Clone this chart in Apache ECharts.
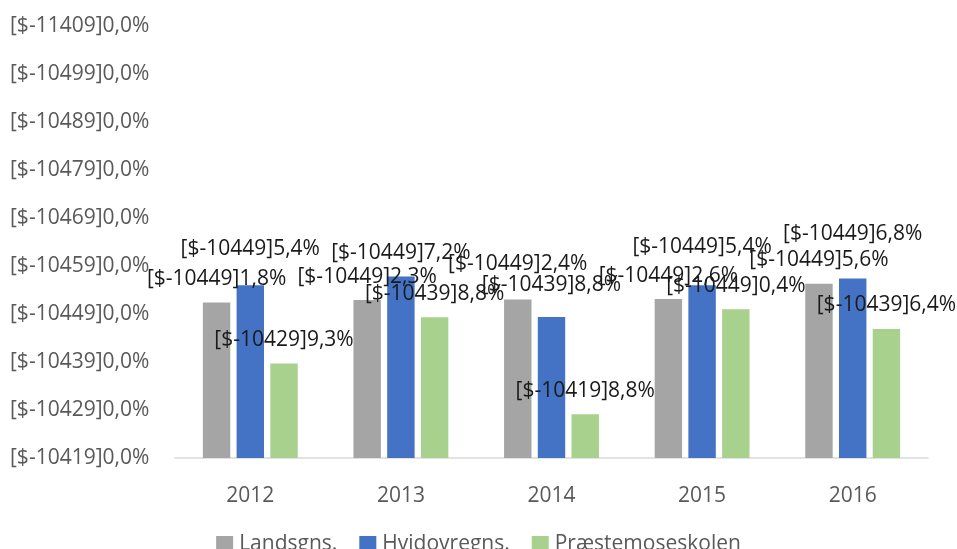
<!DOCTYPE html>
<html><head><meta charset="utf-8">
<script src="https://cdn.jsdelivr.net/npm/echarts@6/dist/echarts.min.js"></script>
<style>html,body{margin:0;padding:0;background:#fff}#c{width:957px;height:549px}</style>
</head><body><div id="c"></div>
<script>
const categories = ['2012','2013','2014','2015','2016'];
const seriesNames = ['Landsgns.','Hvidovregns.','Præstemoseskolen'];
const tickLabels = ['[$-10419]0,0%','[$-10429]0,0%','[$-10439]0,0%','[$-10449]0,0%','[$-10459]0,0%','[$-10469]0,0%','[$-10479]0,0%','[$-10489]0,0%','[$-10499]0,0%','[$-11409]0,0%'];
const landsgns = [3.24, 3.29, 3.30, 3.31, 3.63];
const hvidovregns = [3.60, 3.78, 2.94, 3.60, 3.74];
const praestemose = [1.97, 2.93, 0.91, 3.10, 2.69];
const labelsLands = ['[$-10449]1,8%','[$-10449]2,3%','[$-10449]2,4%','[$-10449]2,6%','[$-10449]5,6%'];
const labelsHvid = ['[$-10449]5,4%','[$-10449]7,2%','[$-10439]8,8%','[$-10449]5,4%','[$-10449]6,8%'];
const labelsPraest = ['[$-10429]9,3%','[$-10439]8,8%','[$-10419]8,8%','[$-10449]0,4%','[$-10439]6,4%'];
// extra upward shift Excel applied to avoid label overlap (px)
const labelLift = [[0,0,12,0,0],[13,0,8,15,21],[0,0,0,0,0]];

const values = [landsgns, hvidovregns, praestemose];
const labelTexts = [labelsLands, labelsHvid, labelsPraest];
const colors = ['#a5a5a5','#4472c4','#a9d18e'];
const FONT = 'Open Sans';
const FS = 21;

const chart = echarts.init(document.getElementById('c'), null, {renderer:'canvas'});
chart.setOption({
  animation:false,
  backgroundColor:'#ffffff',
  grid:{left:175, right:29, top:26, bottom:91},
  legend:{
    data:seriesNames, top:529, left:'center', icon:'rect', itemWidth:17, itemHeight:17, itemGap:22,
    textStyle:{fontFamily:FONT, fontSize:FS, color:'#595959', padding:[0,0,0,1]}
  },
  xAxis:{
    type:'category', data:categories,
    axisTick:{show:false},
    axisLine:{lineStyle:{color:'#d9d9d9', width:1.5}},
    axisLabel:{fontFamily:FONT, fontSize:FS, color:'#595959', margin:28}
  },
  yAxis:{
    type:'value', min:0, max:9, interval:1,
    splitLine:{show:false}, axisLine:{show:false}, axisTick:{show:false},
    axisLabel:{fontFamily:FONT, fontSize:FS, color:'#595959', align:'left', margin:165,
      formatter:v=>tickLabels[Math.round(v)]}
  },
  series: values.map((vals,si)=>({
    name:seriesNames[si], type:'bar', barGap:'23%', barCategoryGap:'37%',
    itemStyle:{color:colors[si]},
    label:{show:true, position:'top', distance:13, fontFamily:FONT, fontSize:FS, color:'#1a1a1a',
      formatter:p=>labelTexts[si][p.dataIndex]},
    data: vals.map((v,i)=>({value:v, label:{offset:[0,-labelLift[si][i]]}}))
  }))
});
</script></body></html>
